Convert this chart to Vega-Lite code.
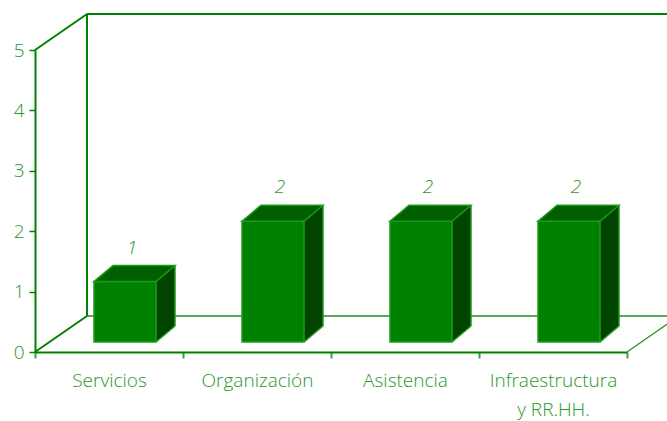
{
  "$schema": "https://vega.github.io/schema/vega-lite/v6.json",
  "width": 592,
  "height": 302,
  "autosize": "none",
  "padding": {"left": 35, "top": 50, "right": 40, "bottom": 69},
  "background": "white",
  "config": {
    "view": {"stroke": null},
    "font": "Open Sans"
  },
  "data": {"values": [
    {"categoria": "Servicios", "valor": 1},
    {"categoria": "Organización", "valor": 2},
    {"categoria": "Asistencia", "valor": 2},
    {"categoria": "Infraestructura y RR.HH.", "valor": 2}
  ]},
  "encoding": {
    "x": {
      "field": "categoria", "type": "nominal",
      "scale": {"domain": ["Servicios", "Organización", "Asistencia", "Infraestructura y RR.HH."], "paddingInner": 0, "paddingOuter": 0},
      "axis": {
        "title": null, "labelAngle": 0, "tickBand": "extent",
        "domainColor": "#008000", "domainWidth": 2,
        "tickColor": "#3aa03a", "tickWidth": 2, "tickSize": 6,
        "labelColor": "#2a962a", "labelFont": "Open Sans", "labelFontSize": 19, "labelFontWeight": 300,
        "labelPadding": 13, "labelLineHeight": 29,
        "labelExpr": "datum.value == 'Infraestructura y RR.HH.' ? ['Infraestructura', 'y RR.HH.'] : datum.label"
      }
    },
    "y": {
      "field": "valor", "type": "quantitative",
      "scale": {"domain": [0, 5], "nice": false},
      "axis": {
        "title": null, "values": [0, 1, 2, 3, 4, 5], "grid": false,
        "domainColor": "#008000", "domainWidth": 2,
        "tickColor": "#008000", "tickWidth": 1.5, "tickSize": 6,
        "labelColor": "#2a962a", "labelFont": "Open Sans", "labelFontSize": 19, "labelFontWeight": 300,
        "labelPadding": 5
      }
    }
  },
  "layer": [
    {
      "transform": [{"filter": "datum.categoria == 'Servicios'"}],
      "mark": {"type": "rule", "color": "#008000", "strokeWidth": 2, "xOffset": 52, "x2Offset": 52, "yOffset": -36, "y2Offset": -36},
      "encoding": {
        "x": {"datum": "Servicios", "type": "nominal", "bandPosition": 0},
        "y": {"datum": 0, "type": "quantitative"},
        "y2": {"datum": 5}
      }
    },
    {
      "transform": [{"filter": "datum.categoria == 'Servicios'"}],
      "mark": {"type": "point", "shape": "M0,0L52,-36M52,-36L700,-36", "size": 4, "filled": false, "stroke": "#008000", "strokeWidth": 2, "opacity": 1},
      "encoding": {
        "x": {"datum": "Servicios", "type": "nominal", "bandPosition": 0},
        "y": {"datum": 5, "type": "quantitative"}
      }
    },
    {
      "transform": [{"filter": "datum.categoria == 'Servicios'"}],
      "mark": {"type": "point", "shape": "M0,0L52,-36", "size": 4, "filled": false, "stroke": "#008000", "strokeWidth": 2, "opacity": 1},
      "encoding": {
        "x": {"datum": "Servicios", "type": "nominal", "bandPosition": 0},
        "y": {"datum": 0, "type": "quantitative"}
      }
    },
    {
      "transform": [{"filter": "datum.categoria == 'Servicios'"}],
      "mark": {"type": "point", "shape": "M52,-36L700,-36", "size": 4, "filled": false, "stroke": "#1f8f1f", "strokeWidth": 1.5, "opacity": 1},
      "encoding": {
        "x": {"datum": "Servicios", "type": "nominal", "bandPosition": 0},
        "y": {"datum": 0, "type": "quantitative"}
      }
    },
    {
      "transform": [{"filter": "datum.categoria == 'Servicios'"}],
      "mark": {"type": "point", "shape": "M0,0L52,-36", "size": 4, "filled": false, "stroke": "#1f8f1f", "strokeWidth": 1.2, "opacity": 1},
      "encoding": {
        "x": {"datum": "Infraestructura y RR.HH.", "type": "nominal", "bandPosition": 1},
        "y": {"datum": 0, "type": "quantitative"}
      }
    },
    {
      "mark": {"type": "bar", "width": 19, "xOffset": 56.5, "yOffset": -26, "y2Offset": -26, "fill": "#004400"},
      "encoding": {"y2": {"datum": 0}}
    },
    {
      "mark": {"type": "point", "shape": "M47,-26L66,-26L47,-10Z", "size": 4, "filled": true, "fill": "#004400", "strokeWidth": 0, "opacity": 1},
      "encoding": {"y": {"datum": 0, "type": "quantitative"}}
    },
    {
      "mark": {"type": "rule", "xOffset": 66, "yOffset": -26, "y2Offset": -26, "stroke": "#1c9a1c", "strokeWidth": 1.5},
      "encoding": {"y2": {"datum": 0}}
    },
    {
      "mark": {"type": "point", "shape": "M47,-10L66,-26", "size": 4, "filled": false, "stroke": "#1c9a1c", "strokeWidth": 1.5, "opacity": 1},
      "encoding": {"y": {"datum": 0, "type": "quantitative"}}
    },
    {
      "mark": {"type": "bar", "width": 62, "xOffset": 16, "yOffset": -10, "y2Offset": -10, "fill": "#008000", "stroke": "#1c9a1c", "strokeWidth": 1.5},
      "encoding": {"y2": {"datum": 0}}
    },
    {
      "mark": {"type": "point", "shape": "M-15,-10L47,-10L66,-26L4,-26Z", "size": 4, "filled": true, "fill": "#006000", "stroke": "#1c9a1c", "strokeWidth": 1.5, "opacity": 1}
    },
    {
      "mark": {"type": "text", "xOffset": 23, "yOffset": -44, "baseline": "middle", "fontStyle": "italic", "fontWeight": 300, "font": "Open Sans", "fontSize": 19, "fill": "#2a962a"},
      "encoding": {"text": {"field": "valor", "type": "quantitative"}}
    }
  ]
}
